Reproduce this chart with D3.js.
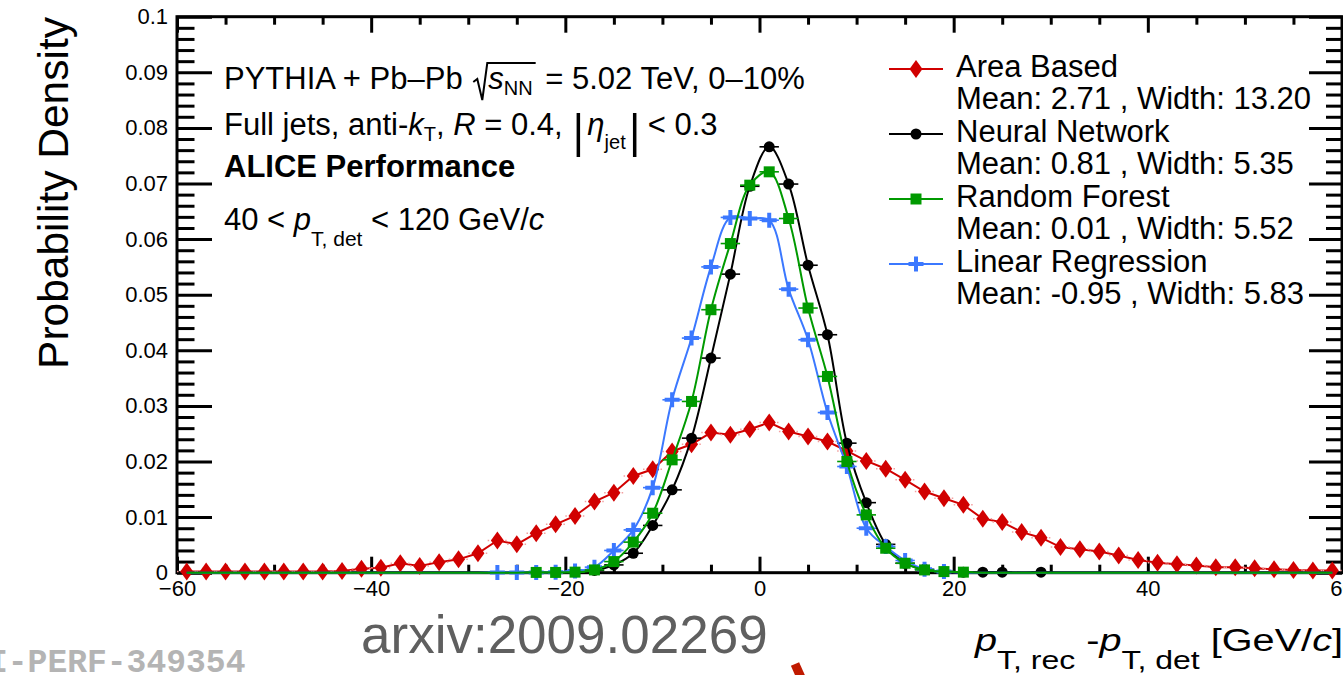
<!DOCTYPE html>
<html><head><meta charset="utf-8">
<script src="https://cdn.jsdelivr.net/npm/d3@7"></script>
<style>html,body{margin:0;padding:0;background:#fff;overflow:hidden}text{font-family:"Liberation Sans",Arial,Helvetica,sans-serif}</style>
</head><body><svg id="c" width="1343" height="675" xmlns="http://www.w3.org/2000/svg"></svg>
<script>
// ---------- data ----------
const binCenters = [-59,-57,-55,-53,-51,-49,-47,-45,-43,-41,
  -39,-37,-35,-33,-31,-29,-27,-25,-23,-21,
  -19,-17,-15,-13,-11,-9,-7,-5,-3,-1,
  1,3,5,7,9,11,13,15,17,19,
  21,23,25,27,29,31,33,35,37,39,
  41,43,45,47,49,51,53,55,57,59];
const areaBased = [0.0002,0.0002,0.0002,0.0002,0.0002,0.0002,0.0002,0.0002,0.0003,0.0007,
  0.0009,0.0017,0.0012,0.0019,0.0024,0.0035,0.0058,0.0051,0.0071,0.0087,
  0.0102,0.0128,0.0144,0.0174,0.0186,0.0218,0.0231,0.0252,0.0248,0.0258,
  0.0270,0.0254,0.0245,0.0236,0.0219,0.0201,0.0187,0.0167,0.0146,0.0134,
  0.0122,0.0097,0.0091,0.0073,0.0063,0.0046,0.0042,0.0038,0.0031,0.0023,
  0.0018,0.0015,0.0013,0.0010,0.0010,0.0008,0.0006,0.0005,0.0004,0.0004];
const neuralNetwork = [0,0,0,0,0,0,0,0,0,0,
  0,0,0,0,0,0,0,0,0,0,
  0.0001,0.0004,0.0014,0.0035,0.0085,0.0149,0.0242,0.0386,0.0537,0.0695,
  0.0766,0.0699,0.0553,0.0428,0.0233,0.0126,0.0051,0.0017,0.0006,0.0002,
  0.0001,0.0001,0.0001,0,0.0001,0,0,0,0,0,
  0,0,0,0,0,0,0,0,0,0];
const randomForest = [0,0,0,0,0,0,0,0,0,0,
  0,0,0,0,0,0,0,0,0.00005,0.00005,
  0.0001,0.0005,0.0020,0.0055,0.0107,0.0203,0.0308,0.0473,0.0592,0.0697,
  0.0721,0.0637,0.0476,0.0353,0.0200,0.0104,0.0044,0.0017,0.0005,0.0002,
  0.0001,0,0,0,0,0,0,0,0,0,
  0,0,0,0,0,0,0,0,0,0];
const linearRegression = [0,0,0,0,0,0,0,0,0,0,
  0,0,0,0,0,0,0.00005,0.00005,0.00005,0.0001,
  0.0003,0.0010,0.0040,0.0077,0.0153,0.0311,0.0422,0.0550,0.0639,0.0637,
  0.0634,0.0510,0.0419,0.0288,0.0191,0.0080,0.0047,0.0022,0.0006,0.0002,
  0,0,0,0,0,0,0,0,0,0,
  0,0,0,0,0,0,0,0,0,0];
const seriesNames = ["Area Based","Neural Network","Random Forest","Linear Regression"];
const seriesStats = ["Mean: 2.71 , Width: 13.20","Mean: 0.81 , Width: 5.35","Mean: 0.01 , Width: 5.52","Mean: -0.95 , Width: 5.83"];
const xTickValues = [-60,-40,-20,0,20,40,60];
const xTickLabels = ["\u221260","\u221240","\u221220","0","20","40","60"];
const yTickValues = [0,0.01,0.02,0.03,0.04,0.05,0.06,0.07,0.08,0.09,0.1];
const yTickLabels = ["0","0.01","0.02","0.03","0.04","0.05","0.06","0.07","0.08","0.09","0.1"];
const binHalfWidth = 1;

// ---------- layout ----------
const svg = d3.select("#c");
const X0 = 177, X1 = 1342, Y0 = 572.7, Y1 = 16.7;
const x = d3.scaleLinear().domain([-60,60]).range([X0,X1]);
const y = d3.scaleLinear().domain([0,0.1]).range([Y0,Y1]);
const colors = ["#d10000","#000000","#009a00","#3b78ff"];
const FS = 31;

svg.append("rect").attr("width",1343).attr("height",675).attr("fill","#fff");

function styleAxis(g){ g.select(".domain").remove(); g.selectAll(".tick line").attr("stroke","#000").attr("stroke-width",3); }
function styleLabels(g){ g.selectAll("text").attr("font-size",22).attr("fill","#000").attr("font-family","Liberation Sans, Arial, sans-serif"); }
const xMinor = d3.range(-60,60.1,5).filter(v=>v%20!==0);
const yMinor = d3.range(0,0.1001,0.002).filter(v=>Math.abs(Math.round(v*100)-v*100)>1e-6);

svg.append("g").attr("transform",`translate(0,${Y0})`)
  .call(d3.axisBottom(x).tickValues(xTickValues).tickFormat((d,i)=>xTickLabels[i]).tickSizeInner(-16).tickSizeOuter(0).tickPadding(8))
  .call(styleAxis).call(styleLabels);
svg.append("g").attr("transform",`translate(0,${Y0})`)
  .call(d3.axisBottom(x).tickValues(xMinor).tickFormat("").tickSizeInner(-8).tickSizeOuter(0)).call(styleAxis);
svg.append("g").attr("transform",`translate(0,${Y1})`)
  .call(d3.axisTop(x).tickValues(xTickValues).tickFormat("").tickSizeInner(-16).tickSizeOuter(0)).call(styleAxis);
svg.append("g").attr("transform",`translate(0,${Y1})`)
  .call(d3.axisTop(x).tickValues(xMinor).tickFormat("").tickSizeInner(-8).tickSizeOuter(0)).call(styleAxis);
svg.append("g").attr("transform",`translate(${X0},0)`)
  .call(d3.axisLeft(y).tickValues(yTickValues).tickFormat((d,i)=>yTickLabels[i]).tickSizeInner(-35).tickSizeOuter(0).tickPadding(9))
  .call(styleAxis).call(styleLabels);
svg.append("g").attr("transform",`translate(${X0},0)`)
  .call(d3.axisLeft(y).tickValues(yMinor).tickFormat("").tickSizeInner(-17.5).tickSizeOuter(0)).call(styleAxis);
svg.append("g").attr("transform",`translate(${X1},0)`)
  .call(d3.axisRight(y).tickValues(yTickValues).tickFormat("").tickSizeInner(-33).tickSizeOuter(0)).call(styleAxis);
svg.append("g").attr("transform",`translate(${X1},0)`)
  .call(d3.axisRight(y).tickValues(yMinor).tickFormat("").tickSizeInner(-16).tickSizeOuter(0)).call(styleAxis);

svg.append("rect").attr("x",X0).attr("y",Y1).attr("width",X1-X0).attr("height",Y0-Y1)
  .attr("fill","none").attr("stroke","#000").attr("stroke-width",3);

// markers
const markerPaths = [
  "M0,-9L6.5,0L0,9L-6.5,0Z",
  null,
  "M-5.5,-5.5H5.5V5.5H-5.5Z",
  "M-7.5,-2H-2V-7.5H2V-2H7.5V2H2V7.5H-2V2H-7.5Z"
];
function drawMarker(g, idx, cx, cy){
  if(idx===1) g.append("circle").attr("cx",cx).attr("cy",cy).attr("r",5.5).attr("fill",colors[idx]);
  else g.append("path").attr("d",markerPaths[idx]).attr("transform",`translate(${cx},${cy})`).attr("fill",colors[idx]);
}

const allSeries = [areaBased, neuralNetwork, randomForest, linearRegression];
const drawOrder = [0,1,3,2];
const plot = svg.append("g");
drawOrder.forEach(si=>{
  const vals = allSeries[si];
  const pts = binCenters.map((c,i)=>[c, vals[i]]);
  const line = d3.line().x(d=>x(d[0])).y(d=>y(d[1]))
    .curve(si===0 ? d3.curveLinear : d3.curveCatmullRom.alpha(0.5));
  const g = plot.append("g");
  g.append("path").attr("d",line(pts)).attr("fill","none").attr("stroke",colors[si]).attr("stroke-width",2);
  const nz = pts.filter(d=>d[1]>0);
  g.selectAll("line.err").data(nz).enter().append("line")
    .attr("x1",d=>x(d[0]-binHalfWidth)).attr("x2",d=>x(d[0]+binHalfWidth))
    .attr("y1",d=>y(d[1])).attr("y2",d=>y(d[1]))
    .attr("stroke", si===0 ? "#f2a0a0" : colors[si]).attr("stroke-width", si===0?1.5:1.6)
    .attr("stroke-dasharray", si===0 ? "1.5,2" : null);
  nz.forEach(d=>drawMarker(g, si, x(d[0]), y(d[1])));
});

// legend
const legY = [69,134,199,264];
seriesNames.forEach((n,i)=>{
  const g = svg.append("g");
  g.append("line").attr("x1",889).attr("x2",943).attr("y1",legY[i]).attr("y2",legY[i]).attr("stroke",colors[i]).attr("stroke-width",2);
  drawMarker(g, i, 916, legY[i]);
  g.append("text").attr("x",956).attr("y",legY[i]+8).attr("font-size",FS).text(n);
  g.append("text").attr("x",956).attr("y",legY[i]+40).attr("font-size",FS).text(seriesStats[i]);
});

// rich text helper
function rich(x0, yb, parts){
  let cx = x0; const out=[];
  parts.forEach(p=>{
    const t = svg.append("text").attr("x",cx).attr("y",yb+(p.dy||0)).attr("font-size",p.size||FS)
      .attr("font-style",p.it?"italic":null).attr("font-weight",p.b?"bold":null)
      .attr("xml:space","preserve").style("white-space","pre").text(p.t);
    const w = t.node().getComputedTextLength();
    out.push([cx, cx+w]); cx += w + (p.gap||0);
  });
  return out;
}

// annotation line 1
let r1 = rich(224, 89, [{t:"PYTHIA + Pb\u2013Pb ", gap:17},{t:"s",it:true},{t:"NN",size:20,dy:6,gap:4},{t:" = 5.02 TeV, 0\u201310%"}]);
const rx = r1[0][1]+2;
svg.append("path").attr("d",`M${rx},${82}L${rx+4},${79}L${rx+9},${100}L${rx+14},${63}L${r1[2][1]+3},${63}`)
  .attr("fill","none").attr("stroke","#000").attr("stroke-width",2);
// line 2
let r2 = rich(224, 135, [{t:"Full jets, anti-"},{t:"k",it:true},{t:"T",size:20,dy:6},{t:", "},{t:"R",it:true},{t:" = 0.4, ",gap:16},{t:"\u03B7",it:true},{t:"jet",size:20,dy:14,gap:22},{t:"< 0.3"}]);
const b1 = r2[6][0]-9, b2 = r2[7][1]+9;
[b1,b2].forEach(bx=>svg.append("line").attr("x1",bx).attr("x2",bx).attr("y1",113).attr("y2",157).attr("stroke","#000").attr("stroke-width",3.5));
// line 3
rich(224, 177, [{t:"ALICE Performance", b:true}]);
// line 4
rich(224, 230, [{t:"40 < "},{t:"p",it:true},{t:"T, det",size:21,dy:16},{t:" < 120 GeV/"},{t:"c",it:true}]);

// axis titles
svg.append("text").attr("transform","translate(68,17) rotate(-90)").attr("text-anchor","end").attr("font-size",42.5).text("Probability Density");
const xt = svg.append("text").attr("x",1343).attr("y",651).attr("text-anchor","end").attr("font-size",31)
  .attr("textLength",368).attr("lengthAdjust","spacingAndGlyphs").attr("xml:space","preserve").style("white-space","pre");
xt.append("tspan").attr("font-style","italic").text("p");
xt.append("tspan").attr("font-size",25).attr("dy",18).text("T, rec");
xt.append("tspan").attr("dy",-18).text(" -");
xt.append("tspan").attr("font-style","italic").text("p");
xt.append("tspan").attr("font-size",25).attr("dy",18).text("T, det");
xt.append("tspan").attr("dy",-18).text(" [GeV/");
xt.append("tspan").attr("font-style","italic").text("c");
xt.append("tspan").text("]");

// overlays
svg.append("text").attr("x",361).attr("y",653).attr("font-size",53).attr("fill","#5f5f5f").text("arxiv:2009.02269");
svg.append("text").attr("x",-12).attr("y",672).attr("font-size",33).attr("font-weight","bold").attr("fill","#b4b4b4")
  .style("font-family","'Liberation Mono','DejaVu Sans Mono',monospace").text("I-PERF-349354");
svg.append("line").attr("x1",795).attr("y1",664).attr("x2",803).attr("y2",682).attr("stroke","#c01a00").attr("stroke-width",9);
</script></body></html>
